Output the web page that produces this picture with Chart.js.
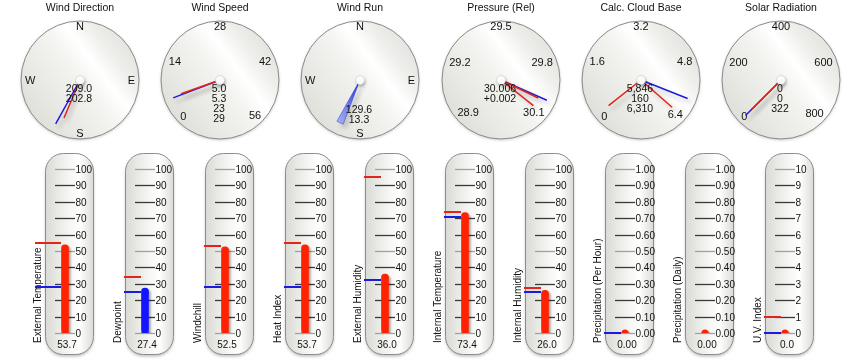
<!DOCTYPE html>
<html>
<head>
<meta charset="utf-8">
<script src="https://cdn.jsdelivr.net/npm/chart.js@4.4.1/dist/chart.umd.min.js"></script>
<style>
  body { margin: 0; background: #fff; }
  #wrap { position: relative; width: 858px; height: 364px; overflow: hidden; }
  canvas { position: absolute; }
</style>
</head>
<body>
<div id="wrap"></div>
<script>
// --- gauges (top row) ---
const gaugeTitles = ['Wind Direction', 'Wind Speed', 'Wind Run', 'Pressure (Rel)', 'Calc. Cloud Base', 'Solar Radiation'];
const gaugeCompass = [true, false, true, false, false, false];
const gaugeMin = [0, 0, 0, 28.9, 0, 0];
const gaugeMax = [360, 56, 360, 30.1, 6.4, 800];
const gaugeTickLabels = [
    ['N', 'E', 'S', 'W'],
    ['0', '14', '28', '42', '56'],
    ['N', 'E', 'S', 'W'],
    ['28.9', '29.2', '29.5', '29.8', '30.1'],
    ['0', '1.6', '3.2', '4.8', '6.4'],
    ['0', '200', '400', '600', '800']
];
const gaugeBlue = [209.0, 5.0, null, 30.006, 5.846, 0];
const gaugeRed = [[202.8], [5.3], [], [30.015, 30.07], [0.16, 6.31], [0]];
const windRunDir = 205;
const gaugeReadouts = [
    ['209.0', '202.8'],
    ['5.0', '5.3', '23', '29'],
    ['129.6', '13.3'],
    ['30.006', '+0.002'],
    ['5,846', '160', '6,310'],
    ['0', '0', '322']
];

// --- thermometers (bottom row) ---
const thermNames = ['External Temperature', 'Dewpoint', 'Windchill', 'Heat Index', 'External Humidity',
    'Internal Temperature', 'Internal Humidity', 'Precipitation (Per Hour)', 'Precipitation (Daily)', 'U.V. Index'];
const thermValues = [53.7, 27.4, 52.5, 53.7, 36.0, 73.4, 26.0, 0.00, 0.00, 0.0];
const thermHigh = [55, 34, 53, 55, 95, 74, 27.5, null, null, 1];
const thermLow = [28, 25, 28, 28, 32.5, 71, 25, 0, null, 0];
const thermScaleMax = [100, 100, 100, 100, 100, 100, 100, 1, 1, 10];
const thermDecimals = [1, 1, 1, 1, 1, 1, 1, 2, 2, 1];

const FONT = '"Liberation Sans", Arial, Helvetica, sans-serif';
const RED = '#e3241b';
const BLUE = '#1c1ce0';
const wrap = document.getElementById('wrap');

function makeCanvas(left, top, w, h) {
    const c = document.createElement('canvas');
    c.width = w; c.height = h;
    c.style.left = left + 'px'; c.style.top = top + 'px';
    c.style.width = w + 'px'; c.style.height = h + 'px';
    wrap.appendChild(c);
    return c;
}

function gaugeAngle(i, v) {
    if (gaugeCompass[i]) return v * Math.PI / 180;
    return (-135 + 270 * (v - gaugeMin[i]) / (gaugeMax[i] - gaugeMin[i])) * Math.PI / 180;
}

function needle(i, v, len) {
    const a = gaugeAngle(i, v);
    return [{x: 0, y: 0}, {x: len * Math.sin(a), y: len * Math.cos(a)}];
}

const gaugePlugin = {
    id: 'gauge',
    beforeDraw(chart) {
        const ctx = chart.ctx, i = chart.options.gaugeIndex;
        const xs = chart.scales.x, ys = chart.scales.y;
        const cx = xs.getPixelForValue(0), cy = ys.getPixelForValue(0);
        const r = xs.getPixelForValue(1) - cx;
        ctx.save();
        ctx.fillStyle = '#111';
        ctx.font = '10.5px ' + FONT;
        ctx.textAlign = 'center';
        ctx.textBaseline = 'middle';
        ctx.fillText(gaugeTitles[i], cx, 8);

        ctx.shadowColor = 'rgba(0,0,0,0.22)';
        ctx.shadowBlur = 3;
        ctx.shadowOffsetY = 1;
        const g = ctx.createLinearGradient(cx - r * 0.8, cy + r * 0.6, cx + r * 0.8, cy - r * 0.6);
        g.addColorStop(0, '#e0e0db');
        g.addColorStop(0.5, '#f3f3f0');
        g.addColorStop(0.68, '#ffffff');
        g.addColorStop(0.85, '#eeeeeb');
        g.addColorStop(1, '#e4e4e0');
        ctx.beginPath();
        ctx.arc(cx, cy, r, 0, Math.PI * 2);
        ctx.fillStyle = g;
        ctx.fill();
        ctx.shadowColor = 'transparent';
        ctx.lineWidth = 1;
        ctx.strokeStyle = '#8a8a8a';
        ctx.stroke();

        ctx.font = '11px ' + FONT;
        ctx.fillStyle = '#111';
        const labels = gaugeTickLabels[i];
        labels.forEach((t, k) => {
            const v = gaugeCompass[i] ? k * 90 : gaugeMin[i] + k * (gaugeMax[i] - gaugeMin[i]) / (labels.length - 1);
            const a = gaugeAngle(i, v);
            const hw = ctx.measureText(t).width / 2;
            const rr = 55 - hw * Math.abs(Math.sin(a)) - 1.5 * Math.abs(Math.cos(a));
            ctx.fillText(t, cx + rr * Math.sin(a), cy - rr * Math.cos(a) + 0.5);
        });
        ctx.restore();
    },
    beforeDatasetsDraw(chart) {
        const ctx = chart.ctx;
        ctx.save();
        ctx.shadowColor = 'rgba(0,0,0,0.22)';
        ctx.shadowBlur = 4;
        ctx.shadowOffsetX = 3;
        ctx.shadowOffsetY = 4;
    },
    afterDatasetsDraw(chart) {
        const ctx = chart.ctx, i = chart.options.gaugeIndex;
        ctx.restore();
        const xs = chart.scales.x, ys = chart.scales.y;
        const cx = xs.getPixelForValue(0), cy = ys.getPixelForValue(0);
        ctx.save();
        ctx.shadowColor = 'rgba(0,0,0,0.3)';
        ctx.shadowBlur = 3;
        ctx.shadowOffsetX = 1;
        ctx.shadowOffsetY = 2;
        ctx.beginPath();
        ctx.arc(cx, cy, 4.5, 0, Math.PI * 2);
        ctx.fillStyle = '#fafafa';
        ctx.fill();
        ctx.shadowColor = 'transparent';
        ctx.strokeStyle = '#d4d4d4';
        ctx.lineWidth = 0.8;
        ctx.stroke();

        ctx.fillStyle = '#111';
        ctx.font = '10.5px ' + FONT;
        ctx.textAlign = 'center';
        ctx.textBaseline = 'middle';
        const top = i === 2 ? cy + 30 : cy + 9.5;
        gaugeReadouts[i].forEach((t, k) => ctx.fillText(t, cx - 1, top + k * 10));
        ctx.restore();
    }
};

gaugeTitles.forEach((title, i) => {
    const canvas = makeCanvas(Math.round(10 + i * 140.2), 0, 140, 145);
    const datasets = [];
    gaugeRed[i].forEach(v => datasets.push({
        data: needle(i, v, 0.7), borderColor: RED, borderWidth: 1.5
    }));
    if (gaugeBlue[i] !== null) {
        datasets.push({data: needle(i, gaugeBlue[i], 0.85), borderColor: BLUE, borderWidth: 1.5});
    }
    if (i === 2) {
        const a = gaugeAngle(i, windRunDir);
        const L = 0.8, w = 0.06;
        const tx = L * Math.sin(a), ty = L * Math.cos(a);
        const px = Math.cos(a) * w, py = -Math.sin(a) * w;
        datasets.push({
            data: [{x: 0, y: 0}, {x: tx + px, y: ty + py}, {x: tx - px, y: ty - py}, {x: 0, y: 0}],
            borderColor: 'rgba(40,60,225,0.6)', borderWidth: 0.8,
            backgroundColor: ctx => {
                const area = ctx.chart.chartArea;
                if (!area) return 'rgba(40,60,225,0.8)';
                const sx = ctx.chart.scales.x, sy = ctx.chart.scales.y;
                const gr = ctx.chart.ctx.createLinearGradient(sx.getPixelForValue(0), sy.getPixelForValue(0),
                    sx.getPixelForValue(tx), sy.getPixelForValue(ty));
                gr.addColorStop(0, 'rgba(20,30,210,1)');
                gr.addColorStop(1, 'rgba(120,140,255,0.6)');
                return gr;
            },
            fill: 'shape'
        });
    }
    new Chart(canvas, {
        type: 'line',
        data: {datasets: datasets.map(d => Object.assign({pointRadius: 0, tension: 0, clip: false}, d))},
        options: {
            gaugeIndex: i,
            responsive: false,
            animation: false,
            devicePixelRatio: 1,
            layout: {padding: {left: 11, right: 11, top: 21, bottom: 6}},
            scales: {
                x: {type: 'linear', min: -1, max: 1, display: false},
                y: {type: 'linear', min: -1, max: 1, display: false}
            },
            plugins: {legend: {display: false}, tooltip: {enabled: false}}
        },
        plugins: [gaugePlugin]
    });
});

function roundRect(ctx, x, y, w, h, r) {
    ctx.beginPath();
    ctx.moveTo(x + r, y);
    ctx.arcTo(x + w, y, x + w, y + h, r);
    ctx.arcTo(x + w, y + h, x, y + h, r);
    ctx.arcTo(x, y + h, x, y, r);
    ctx.arcTo(x, y, x + w, y, r);
    ctx.closePath();
}

const thermPlugin = {
    id: 'therm',
    beforeDraw(chart) {
        const ctx = chart.ctx, i = chart.options.thermIndex;
        const ys = chart.scales.y;
        const rl = 20;
        ctx.save();
        ctx.shadowColor = 'rgba(0,0,0,0.25)';
        ctx.shadowBlur = 3;
        ctx.shadowOffsetY = 2;
        const g = ctx.createLinearGradient(rl, 0, rl + 48, 0);
        g.addColorStop(0, '#dadad4');
        g.addColorStop(0.5, '#f6f6f4');
        g.addColorStop(0.72, '#ffffff');
        g.addColorStop(1, '#dcdcd7');
        roundRect(ctx, rl + 0.5, 5.5, 48, 201, 18);
        ctx.fillStyle = g;
        ctx.fill();
        ctx.shadowColor = 'transparent';
        ctx.strokeStyle = '#8c8c8c';
        ctx.lineWidth = 1;
        ctx.stroke();

        // tick lines + labels
        const max = thermScaleMax[i];
        ctx.font = '10px ' + FONT;
        ctx.textBaseline = 'middle';
        ctx.textAlign = 'left';
        for (let k = 0; k <= 10; k++) {
            const v = max * k / 10;
            const y = Math.round(ys.getPixelForValue(v)) + 0.5;
            ctx.beginPath();
            ctx.moveTo(rl + 10, y);
            ctx.lineTo(rl + 30, y);
            ctx.strokeStyle = (k % 5 === 0) ? '#a0a0a0' : '#3a3a3a';
            ctx.lineWidth = 1.3;
            ctx.stroke();
            ctx.fillStyle = '#111';
            ctx.fillText(max === 1 ? v.toFixed(2) : String(Math.round(v)), rl + 30.5, y + 0.5);
        }

        // rotated name
        ctx.save();
        ctx.translate(rl - 7, 195);
        ctx.rotate(-Math.PI / 2);
        ctx.fillText(thermNames[i], 0, 0);
        ctx.restore();

        // value readout
        ctx.textAlign = 'center';
        ctx.fillText(thermValues[i].toFixed(thermDecimals[i]), rl + 22, 197);
        ctx.restore();
    },
    beforeDatasetsDraw(chart) {
        const ctx = chart.ctx;
        ctx.save();
        ctx.shadowColor = 'rgba(0,0,0,0.3)';
        ctx.shadowBlur = 2;
        ctx.shadowOffsetX = 2;
        ctx.shadowOffsetY = 2;
    },
    afterDatasetsDraw(chart) {
        const ctx = chart.ctx, i = chart.options.thermIndex;
        ctx.restore();
        const ys = chart.scales.y;
        const x0 = i === 0 ? 10 : 19;
        ctx.save();
        ctx.lineWidth = 2;
        [[thermHigh[i], RED], [thermLow[i], BLUE]].forEach(([v, col]) => {
            if (v === null) return;
            const y = Math.round(ys.getPixelForValue(v));
            ctx.beginPath();
            ctx.moveTo(x0, y);
            ctx.lineTo(36, y);
            ctx.strokeStyle = col;
            ctx.stroke();
        });
        ctx.restore();
    }
};

thermNames.forEach((name, i) => {
    const canvas = makeCanvas(25 + i * 80, 148, 80, 215);
    const col = i === 1 ? '#1414ff' : '#ff2200';
    new Chart(canvas, {
        type: 'bar',
        data: {
            labels: [name],
            datasets: [
                {type: 'line', data: [0], showLine: false, pointRadius: 3.6, pointBorderWidth: 0,
                 pointBackgroundColor: col, order: 0},
                {data: [thermValues[i]], backgroundColor: col, barThickness: 7,
                 borderRadius: 3.5, borderSkipped: false, order: 1}
            ]
        },
        options: {
            thermIndex: i,
            responsive: false,
            animation: false,
            devicePixelRatio: 1,
            layout: {padding: {left: 30, right: 30, top: 21, bottom: 30}},
            scales: {
                x: {display: false},
                y: {display: false, min: 0, max: thermScaleMax[i]}
            },
            plugins: {legend: {display: false}, tooltip: {enabled: false}}
        },
        plugins: [thermPlugin]
    });
});
</script>
</body>
</html>
